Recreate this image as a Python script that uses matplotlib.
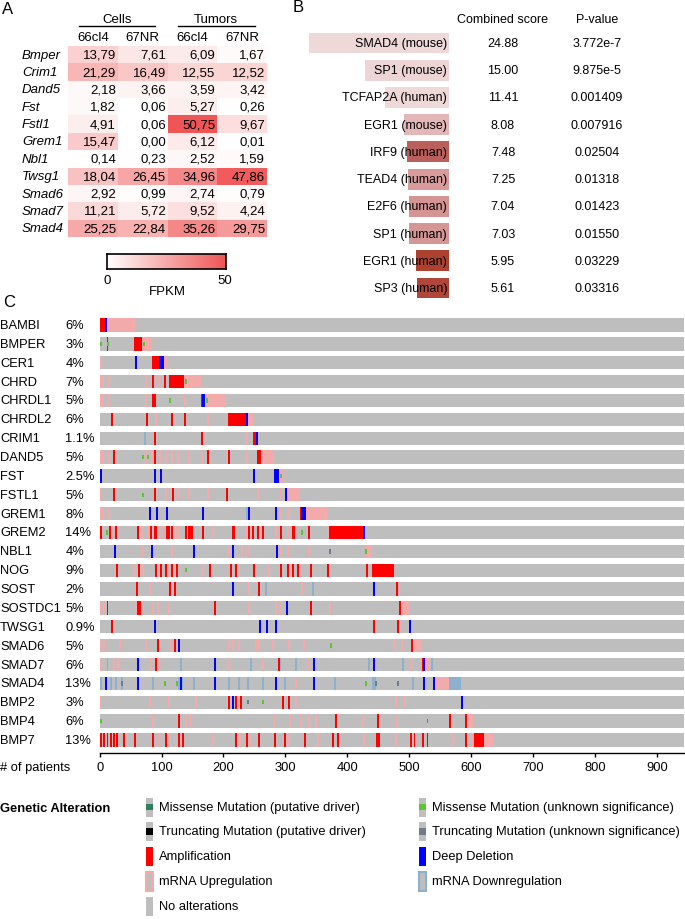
import matplotlib
matplotlib.use('Agg')
import matplotlib.pyplot as plt
import numpy as np
from matplotlib.patches import Rectangle
from matplotlib.lines import Line2D
from matplotlib.colors import LinearSegmentedColormap

plt.rcParams['font.family'] = ['Liberation Sans', 'DejaVu Sans']

# ---------------- Panel A data ----------------
genes_a = ['Bmper', 'Crim1', 'Dand5', 'Fst', 'Fstl1', 'Grem1', 'Nbl1', 'Twsg1', 'Smad6', 'Smad7', 'Smad4']
col_labels_a = ['66cl4', '67NR', '66cl4', '67NR']
cells_66cl4 = [13.79, 21.29, 2.18, 1.82, 4.91, 15.47, 0.14, 18.04, 2.92, 11.21, 25.25]
cells_67nr = [7.61, 16.49, 3.66, 0.06, 0.06, 0.00, 0.23, 26.45, 0.99, 5.72, 22.84]
tumors_66cl4 = [6.09, 12.55, 3.59, 5.27, 50.75, 6.12, 2.52, 34.96, 2.74, 9.52, 35.26]
tumors_67nr = [1.67, 12.52, 3.42, 0.26, 9.67, 0.01, 1.59, 47.86, 0.79, 4.24, 29.75]
fpkm_ticks = [0, 50]

# ---------------- Panel B data ----------------
tf_labels = ['SMAD4 (mouse)', 'SP1 (mouse)', 'TCFAP2A (human)', 'EGR1 (mouse)', 'IRF9 (human)',
             'TEAD4 (human)', 'E2F6 (human)', 'SP1 (human)', 'EGR1 (human)', 'SP3 (human)']
combined_score = [24.88, 15.00, 11.41, 8.08, 7.48, 7.25, 7.04, 7.03, 5.95, 5.61]
p_values = ['3.772e-7', '9.875e-5', '0.001409', '0.007916', '0.02504',
            '0.01318', '0.01423', '0.01550', '0.03229', '0.03316']
tf_colors = ['#EFD8D8', '#EDD5D5', '#EFD8D8', '#E3B7B7', '#BA5F5B',
             '#D89A9A', '#D49494', '#D59696', '#AC4130', '#AF4639']

# ---------------- Panel C data ----------------
n_patients = 944
onco_genes = ['BAMBI', 'BMPER', 'CER1', 'CHRD', 'CHRDL1', 'CHRDL2', 'CRIM1', 'DAND5', 'FST', 'FSTL1',
              'GREM1', 'GREM2', 'NBL1', 'NOG', 'SOST', 'SOSTDC1', 'TWSG1', 'SMAD6', 'SMAD7', 'SMAD4',
              'BMP2', 'BMP4', 'BMP7']
onco_pct = ['6%', '3%', '4%', '7%', '5%', '6%', '1.1%', '5%', '2.5%', '5%', '8%', '14%', '4%', '9%',
            '2%', '5%', '0.9%', '5%', '6%', '13%', '3%', '6%', '13%']
# events: (first patient, number of patients, alteration)
# A amplification, D deep deletion, U mRNA up, d mRNA down, M missense (unknown), T truncating (unknown)
BAMBI = [(0, 9, 'A'), (9, 2, 'D'), (11, 46, 'U')]
BMPER = [(0, 1, 'M'), (11, 1, 'A'), (12, 1, 'M'), (56, 13, 'A'), (69, 14, 'U'), (70, 1, 'M')]
CER1 = [(0, 1, 'U'), (57, 1, 'D'), (84, 12, 'A'), (96, 8, 'D'), (104, 7, 'U')]
CHRD = [(0, 1, 'U'), (4, 1, 'U'), (14, 1, 'U'), (73, 1, 'U'), (85, 3, 'A'), (94, 1, 'U'), (104, 1, 'A'),
        (112, 24, 'A'), (136, 28, 'U'), (138, 1, 'M')]
CHRDL1 = [(0, 1, 'U'), (4, 1, 'U'), (14, 1, 'U'), (73, 1, 'U'), (84, 2, 'A'), (88, 1, 'A'), (112, 1, 'M'),
          (137, 1, 'U'), (164, 2, 'A'), (166, 4, 'D'), (170, 34, 'U'), (171, 1, 'M')]
CHRDL2 = [(18, 1, 'A'), (75, 1, 'A'), (89, 1, 'U'), (115, 1, 'A'), (136, 1, 'A'), (173, 1, 'U'),
          (207, 29, 'A'), (236, 1, 'D'), (237, 10, 'U')]
CRIM1 = [(72, 1, 'd'), (88, 1, 'A'), (164, 1, 'A'), (237, 1, 'U'), (247, 6, 'A'), (253, 1, 'D')]
DAND5 = [(0, 1, 'U'), (4, 1, 'U'), (14, 1, 'U'), (21, 1, 'A'), (69, 1, 'M'), (73, 1, 'U'), (77, 1, 'M'),
         (83, 1, 'U'), (88, 1, 'A'), (96, 1, 'U'), (106, 1, 'U'), (115, 1, 'U'), (127, 1, 'U'),
         (143, 1, 'U'), (164, 1, 'U'), (174, 1, 'A'), (208, 1, 'A'), (237, 1, 'U'), (254, 6, 'A'),
         (260, 21, 'U')]
FST = [(1, 1, 'D'), (87, 1, 'D'), (98, 2, 'D'), (247, 1, 'D'), (281, 1, 'A'), (282, 8, 'D'),
       (290, 8, 'U'), (291, 1, 'M')]
FSTL1 = [(0, 1, 'U'), (22, 1, 'A'), (69, 1, 'M'), (87, 1, 'A'), (106, 1, 'U'), (117, 1, 'A'),
         (127, 1, 'U'), (142, 1, 'U'), (174, 1, 'U'), (204, 1, 'A'), (254, 1, 'U'), (291, 1, 'U'),
         (299, 1, 'D'), (300, 24, 'U')]
GREM1 = [(0, 1, 'U'), (4, 1, 'U'), (14, 1, 'U'), (79, 1, 'D'), (91, 1, 'D'), (107, 1, 'D'), (166, 1, 'D'),
         (236, 4, 'd'), (240, 1, 'D'), (283, 1, 'D'), (291, 1, 'U'), (302, 6, 'U'), (324, 2, 'A'),
         (326, 8, 'D'), (334, 34, 'U')]
GREM2 = [(0, 4, 'A'), (10, 1, 'M'), (15, 3, 'A'), (20, 1, 'U'), (24, 4, 'A'), (61, 1, 'A'), (69, 1, 'U'),
         (77, 1, 'U'), (82, 2, 'A'), (87, 5, 'A'), (99, 1, 'U'), (107, 1, 'A'), (111, 1, 'A'), (115, 2, 'A'),
         (122, 1, 'U'), (127, 1, 'U'), (138, 1, 'A'), (143, 7, 'A'), (165, 4, 'A'), (182, 1, 'U'),
         (214, 4, 'A'), (236, 1, 'U'), (239, 2, 'A'), (246, 1, 'A'), (254, 1, 'A'), (262, 3, 'A'),
         (283, 1, 'U'), (291, 3, 'A'), (302, 1, 'U'), (310, 6, 'A'), (325, 1, 'M'), (336, 2, 'A'),
         (368, 1, 'U'), (370, 56, 'A'), (426, 1, 'D')]
NBL1 = [(23, 1, 'D'), (69, 1, 'U'), (83, 1, 'D'), (115, 1, 'U'), (150, 1, 'D'), (207, 1, 'U'), (214, 1, 'D'),
        (229, 1, 'U'), (240, 1, 'U'), (285, 1, 'D'), (291, 1, 'U'), (302, 1, 'U'), (337, 1, 'U'),
        (370, 1, 'T'), (430, 9, 'U'), (429, 1, 'M')]
NOG = [(27, 3, 'A'), (56, 1, 'U'), (60, 1, 'U'), (62, 1, 'A'), (69, 1, 'U'), (89, 1, 'A'), (97, 1, 'A'),
       (105, 1, 'A'), (111, 1, 'U'), (116, 3, 'A'), (124, 3, 'A'), (138, 1, 'M'), (166, 1, 'U'), (176, 1, 'A'),
       (211, 2, 'A'), (219, 3, 'A'), (248, 1, 'A'), (272, 1, 'U'), (291, 1, 'A'), (302, 1, 'A'), (310, 1, 'A'),
       (318, 1, 'A'), (324, 1, 'U'), (339, 3, 'A'), (368, 1, 'A'), (430, 1, 'A'), (440, 35, 'A')]
SOST = [(58, 1, 'A'), (80, 1, 'U'), (112, 1, 'A'), (120, 1, 'A'), (214, 1, 'D'), (240, 1, 'U'), (256, 1, 'A'),
        (267, 1, 'd'), (326, 1, 'U'), (343, 1, 'd'), (441, 1, 'D'), (478, 1, 'A'), (480, 1, 'U')]
SOSTDC1 = [(0, 1, 'U'), (5, 1, 'U'), (11, 1, 'A'), (57, 1, 'U'), (60, 6, 'A'), (84, 1, 'U'), (92, 1, 'U'),
           (111, 1, 'U'), (184, 1, 'A'), (240, 1, 'U'), (283, 1, 'U'), (291, 1, 'U'), (301, 1, 'D'),
           (339, 1, 'A'), (371, 1, 'U'), (483, 4, 'A'), (487, 13, 'U')]
TWSG1 = [(19, 1, 'A'), (86, 1, 'U'), (87, 1, 'D'), (257, 1, 'D'), (268, 1, 'D'), (284, 1, 'D'),
         (441, 1, 'A'), (480, 1, 'A'), (500, 1, 'D')]
SMAD6 = [(0, 1, 'U'), (6, 1, 'U'), (31, 1, 'U'), (73, 1, 'U'), (92, 1, 'A'), (112, 1, 'U'), (120, 1, 'A'),
         (127, 1, 'D'), (207, 1, 'U'), (214, 1, 'U'), (224, 1, 'U'), (251, 1, 'U'), (256, 1, 'U'),
         (278, 1, 'U'), (305, 1, 'U'), (329, 1, 'U'), (372, 1, 'M'), (476, 1, 'U'), (487, 1, 'U'),
         (503, 1, 'A'), (504, 17, 'U')]
SMAD7 = [(0, 1, 'U'), (11, 1, 'd'), (22, 1, 'U'), (30, 1, 'U'), (61, 1, 'D'), (81, 1, 'U'), (89, 1, 'A'),
         (93, 1, 'U'), (129, 1, 'd'), (185, 1, 'D'), (207, 1, 'U'), (243, 1, 'd'), (262, 1, 'U'),
         (288, 1, 'A'), (290, 1, 'd'), (315, 1, 'd'), (337, 1, 'U'), (345, 1, 'D'), (433, 1, 'd'),
         (442, 1, 'D'), (488, 1, 'd'), (502, 1, 'U'), (521, 1, 'A'), (523, 1, 'D'), (524, 10, 'U'),
         (535, 1, 'd')]
SMAD4 = [(0, 1, 'd'), (9, 1, 'D'), (17, 1, 'd'), (24, 1, 'd'), (35, 1, 'd'), (34, 1, 'T'), (61, 1, 'D'),
         (84, 4, 'd'), (104, 1, 'M'), (124, 1, 'M'), (127, 7, 'd'), (130, 1, 'D'), (150, 1, 'd'),
         (185, 1, 'D'), (207, 1, 'd'), (224, 1, 'd'), (238, 1, 'd'), (262, 3, 'd'), (283, 1, 'D'),
         (297, 2, 'd'), (315, 1, 'U'), (345, 1, 'D'), (378, 1, 'd'), (428, 1, 'M'), (440, 6, 'd'),
         (445, 1, 'T'), (481, 1, 'T'), (504, 1, 'd'), (523, 1, 'D'), (539, 1, 'D'), (542, 23, 'U'),
         (565, 19, 'd')]
BMP2 = [(0, 1, 'U'), (79, 1, 'U'), (111, 1, 'U'), (154, 1, 'U'), (208, 1, 'A'), (213, 1, 'U'), (214, 1, 'D'),
        (219, 1, 'A'), (224, 1, 'U'), (226, 1, 'A'), (238, 1, 'T'), (263, 1, 'M'), (294, 1, 'A'),
        (305, 1, 'A'), (315, 1, 'U'), (477, 1, 'U'), (491, 1, 'U'), (584, 2, 'D')]
BMP4 = [(0, 1, 'M'), (84, 1, 'U'), (127, 1, 'A'), (138, 1, 'U'), (146, 1, 'U'), (280, 1, 'U'), (306, 1, 'U'),
        (324, 1, 'U'), (337, 1, 'U'), (348, 1, 'U'), (380, 1, 'A'), (423, 1, 'U'), (448, 1, 'A'),
        (478, 1, 'U'), (528, 1, 'T'), (565, 1, 'A'), (590, 1, 'A'), (591, 12, 'U')]
BMP7 = [(0, 1, 'A'), (6, 1, 'A'), (11, 1, 'A'), (17, 1, 'A'), (22, 1, 'A'), (27, 1, 'A'), (38, 1, 'A'),
        (56, 3, 'A'), (84, 4, 'A'), (94, 1, 'U'), (105, 1, 'A'), (111, 1, 'U'), (127, 1, 'A'), (133, 1, 'A'),
        (181, 1, 'U'), (219, 1, 'A'), (227, 1, 'U'), (237, 3, 'A'), (243, 1, 'U'), (256, 1, 'A'),
        (281, 1, 'A'), (298, 1, 'A'), (305, 1, 'U'), (330, 1, 'A'), (351, 1, 'U'), (375, 1, 'A'),
        (383, 1, 'A'), (426, 1, 'U'), (447, 6, 'A'), (477, 1, 'U'), (502, 1, 'A'), (507, 1, 'A'),
        (520, 1, 'A'), (528, 1, 'A'), (569, 1, 'U'), (590, 1, 'A'), (601, 1, 'U'), (604, 17, 'A'),
        (621, 15, 'U')]
onco_events = [BAMBI, BMPER, CER1, CHRD, CHRDL1, CHRDL2, CRIM1, DAND5, FST, FSTL1, GREM1, GREM2, NBL1,
               NOG, SOST, SOSTDC1, TWSG1, SMAD6, SMAD7, SMAD4, BMP2, BMP4, BMP7]
x_ticks_c = list(range(0, 1000, 100))

legend_left = [('MD', 'Missense Mutation (putative driver)'), ('TD', 'Truncating Mutation (putative driver)'),
               ('A', 'Amplification'), ('U', 'mRNA Upregulation'), ('N', 'No alterations')]
legend_right = [('M', 'Missense Mutation (unknown significance)'), ('T', 'Truncating Mutation (unknown significance)'),
                ('D', 'Deep Deletion'), ('d', 'mRNA Downregulation')]

# ---------------- style ----------------
GRAY = '#BEBEBE'
COL = {'A': '#FF0000', 'D': '#0000FF', 'U': '#F2AAAA', 'd': '#8EB0CF',
       'M': '#5DC534', 'T': '#6E7B88', 'MD': '#2F7F5F', 'TD': '#000000'}

W, H = 685, 920
fig = plt.figure(figsize=(W / 100, H / 100), dpi=100)


def rect(x0, y0, x1, y1):
    return [x0 / W, 1 - y1 / H, (x1 - x0) / W, (y1 - y0) / H]


def ftext(x, y, s, **kw):
    kw.setdefault('va', 'center')
    fig.text(x / W, 1 - y / H, s, **kw)


def fline(x0, x1, y, lw=1.0):
    fig.add_artist(Line2D([x0 / W, x1 / W], [1 - y / H, 1 - y / H], color='black', lw=lw,
                          transform=fig.transFigure))


# ---------------- Panel A ----------------
ftext(2, 10, 'A', fontsize=12)
axA = fig.add_axes(rect(68, 47, 267, 238))
vals = np.column_stack([cells_66cl4, cells_67nr, tumors_66cl4, tumors_67nr])
cmap = LinearSegmentedColormap.from_list('fpkm', ['#FFFFFF', '#EF5555'])
axA.pcolormesh(np.arange(vals.shape[1] + 1), np.arange(vals.shape[0] + 1), vals,
               cmap=cmap, vmin=0, vmax=50)
axA.set_xlim(0, 4)
axA.set_ylim(11, 0)
axA.axis('off')
for i, g in enumerate(genes_a):
    axA.text(-0.925, i + 0.5, g, ha='left', va='center', fontsize=9.5, style='italic', clip_on=False)
    for j in range(4):
        axA.text(j + 0.965, i + 0.5, f'{vals[i, j]:.2f}'.replace('.', ','), ha='right', va='center',
                 fontsize=9.5)
for j, lab in enumerate(col_labels_a):
    axA.text(j + 0.5, -0.52, lab, ha='center', va='center', fontsize=9.5, clip_on=False)
ftext(117, 20, 'Cells', ha='center', fontsize=9.5)
ftext(216, 20, 'Tumors', ha='center', fontsize=9.5)
fline(79, 155, 27)
fline(178, 255, 27)

axCB = fig.add_axes(rect(107, 255, 226, 270))
axCB.imshow(np.linspace(0, 50, 256)[None, :], aspect='auto', cmap=cmap, vmin=0, vmax=50,
            extent=[0, 50, 0, 1])
axCB.set_xticks([])
axCB.set_yticks([])
for s in axCB.spines.values():
    s.set_linewidth(1.2)
ftext(107, 281, str(fpkm_ticks[0]), ha='center', fontsize=9.5)
ftext(225, 281, str(fpkm_ticks[1]), ha='center', fontsize=9.5)
ftext(167, 292, 'FPKM', ha='center', fontsize=9.5)

# ---------------- Panel B ----------------
ftext(293, 8, 'B', fontsize=12)
px_per_unit = 5.62
axB = fig.add_axes(rect(280, 30.4, 449, 302.6))
axB.barh(np.arange(len(tf_labels)) + 0.5, combined_score, height=0.77, color=tf_colors, left=0)
axB.set_xlim(169 / px_per_unit, 0)
axB.set_ylim(len(tf_labels), 0)
axB.axis('off')
x_score = (449 - 503) / px_per_unit
x_p = (449 - 597) / px_per_unit
for i, lab in enumerate(tf_labels):
    axB.text(0.35, i + 0.5, lab, ha='right', va='center', fontsize=9, clip_on=False)
    axB.text(x_score, i + 0.5, f'{combined_score[i]:.2f}', ha='center', va='center', fontsize=9,
             clip_on=False)
    axB.text(x_p, i + 0.5, p_values[i], ha='center', va='center', fontsize=9, clip_on=False)
axB.text(x_score, -0.4, 'Combined score', ha='center', va='center', fontsize=9, clip_on=False)
axB.text(x_p, -0.4, 'P-value', ha='center', va='center', fontsize=9, clip_on=False)

# ---------------- Panel C ----------------
ftext(3, 303, 'C', fontsize=12)
axC = fig.add_axes(rect(99.7, 316.6, 684, 750.4))
nrow = len(onco_genes)
bh = 0.705
minw = 3.2
y = np.arange(nrow) + 0.5
axC.barh(y, n_patients, height=bh, left=0, color=GRAY, linewidth=0)
order = {'U': 0, 'd': 0, 'A': 1, 'D': 1, 'M': 2, 'T': 2}
for i, evs in enumerate(onco_events):
    for start, cnt, kind in sorted(evs, key=lambda e: order[e[2]]):
        w = max(cnt, minw)
        h = bh if kind in ('U', 'd', 'A', 'D') else bh / 3
        bars = axC.barh(i + 0.5, w, height=h, left=start, color=COL[kind], linewidth=0)
        for b in bars:
            b.set_antialiased(False)
            b.set_snap(True)
axC.set_xlim(0, n_patients)
axC.set_ylim(nrow, 0)
for s in ['top', 'right', 'left']:
    axC.spines[s].set_visible(False)
axC.spines['bottom'].set_position(('outward', 2.3))
axC.spines['bottom'].set_linewidth(1.0)
axC.set_yticks([])
axC.set_xticks(x_ticks_c)
axC.tick_params(axis='x', length=3, width=1, labelsize=9.3, pad=3)
ytr = axC.get_yaxis_transform()
for i, g in enumerate(onco_genes):
    axC.text(-99.7 / 584.3, i + 0.5, g, transform=ytr, ha='left', va='center', fontsize=9.3)
    axC.text((65.5 - 99.7) / 584.3, i + 0.5, onco_pct[i], transform=ytr, ha='left', va='center',
             fontsize=9.3)
ftext(0, 768, '# of patients', ha='left', fontsize=9.3)

# ---------------- Legend ----------------
ftext(0, 809, 'Genetic Alteration', ha='left', fontsize=9.3, fontweight='bold')


def swatch(x, yc, kind):
    w, h = 7, 19
    x0, y0 = x / W, 1 - (yc + h / 2) / H
    ww, hh = w / W, h / H
    if kind in ('A', 'D'):
        fig.add_artist(Rectangle((x0, y0), ww, hh, color=COL[kind], transform=fig.transFigure, lw=0))
    elif kind in ('U', 'd'):
        fig.add_artist(Rectangle((x0, y0), ww, hh, facecolor=GRAY, edgecolor=COL[kind], lw=1.5,
                                 transform=fig.transFigure))
    else:
        fig.add_artist(Rectangle((x0, y0), ww, hh, color=GRAY, transform=fig.transFigure, lw=0))
        if kind != 'N':
            fig.add_artist(Rectangle((x0, y0 + hh / 3), ww, hh / 3, color=COL[kind],
                                     transform=fig.transFigure, lw=0))


rows_y = [808, 832.5, 857, 882, 907]
for (k, lab), yy in zip(legend_left, rows_y):
    swatch(146, yy, k)
    ftext(159, yy, lab, ha='left', fontsize=9.3)
for (k, lab), yy in zip(legend_right, rows_y):
    swatch(419, yy, k)
    ftext(432, yy, lab, ha='left', fontsize=9.3)

fig.savefig('out.png', dpi=100)
